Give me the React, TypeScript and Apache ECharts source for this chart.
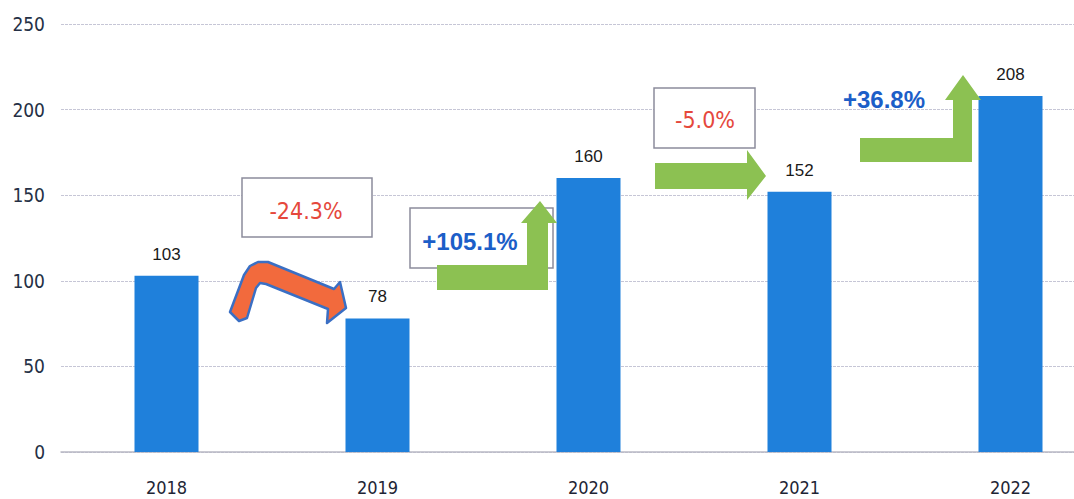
import React, { useEffect, useRef } from "react";
import * as echarts from "echarts";

const years = ["2018", "2019", "2020", "2021", "2022"];
const values = [103, 78, 160, 152, 208];
const yTicks = { min: 0, max: 250, interval: 50 };
const changes = ["-24.3%", "+105.1%", "-5.0%", "+36.8%"];

const GREEN = "#8cc152";
const RED = "#e5483c";
const BLUE_TXT = "#1c5ec8";
const NARROW = "'DejaVu Sans Condensed', 'Liberation Sans Narrow', 'Liberation Sans', Arial, sans-serif";

export default function App() {
  const ref = useRef<HTMLDivElement>(null);
  useEffect(() => {
    if (!ref.current) return;
    const chart = echarts.init(ref.current, null, { renderer: "svg" });
    const box = (x: number, y: number, w: number, h: number) => ({
      type: "rect",
      shape: { x, y, width: w, height: h },
      style: { fill: "#ffffff", stroke: "#8c8c9c", lineWidth: 1.5 },
      z: 10,
    });
    const txt = (x: number, y: number, t: string, color: string, bold: boolean, size: number) => ({
      type: "text",
      x,
      y,
      style: {
        text: t,
        fill: color,
        font: `${bold ? "bold " : ""}${size}px ${bold ? "'Liberation Sans', Arial, sans-serif" : NARROW}`,
        align: "center",
        verticalAlign: "middle",
      },
      z: 12,
    });
    const poly = (points: number[][], fill: string, stroke?: string) => ({
      type: "polygon",
      shape: { points },
      style: stroke ? { fill, stroke, lineWidth: 2.5, lineJoin: "round" } : { fill },
      z: 11,
    });
    chart.setOption({
      animation: false,
      backgroundColor: "#ffffff",
      grid: { left: 61, right: 0, top: 24, bottom: 47, containLabel: false },
      xAxis: {
        type: "category",
        data: years,
        axisLine: { show: true, lineStyle: { color: "#b8b8c4", width: 1.5 } },
        axisTick: { show: false },
        axisLabel: {
          margin: 26,
          fontSize: 18,
          color: "#1e2535",
          fontFamily: NARROW,
        },
      },
      yAxis: {
        type: "value",
        min: yTicks.min,
        max: yTicks.max,
        interval: yTicks.interval,
        axisLine: { show: false },
        axisTick: { show: false },
        splitLine: { lineStyle: { color: "#c6c6d6", width: 1, type: [3, 1] } },
        axisLabel: {
          margin: 16,
          fontSize: 19,
          color: "#253045",
          fontFamily: NARROW,
        },
      },
      series: [
        {
          type: "bar",
          data: values,
          barWidth: 64,
          itemStyle: { color: "#1f80db" },
          label: {
            show: true,
            position: "top",
            distance: 13,
            fontSize: 17,
            color: "#1a1a1a",
            fontFamily: "'Liberation Sans', Arial, sans-serif",
          },
        },
      ],
      graphic: [
        box(242, 178, 130, 59),
        txt(306, 211, changes[0], RED, false, 23),
        poly(
          [
            [230, 312],
            [244, 275],
            [250, 266],
            [258, 262],
            [268, 262],
            [334, 289],
            [340, 282],
            [346, 308],
            [327, 323],
            [328, 309],
            [266, 284],
            [260, 283],
            [256, 288],
            [247, 318],
            [239, 321],
          ],
          "#f26a3d",
          "#3a6fc4"
        ),
        box(410, 208, 143, 60),
        txt(470, 241, changes[1], BLUE_TXT, true, 24),
        poly(
          [
            [437, 265],
            [527, 265],
            [527, 223],
            [521, 223],
            [540, 201],
            [557, 223],
            [548, 223],
            [548, 290],
            [437, 290],
          ],
          GREEN
        ),
        box(654, 88, 101, 60),
        txt(705, 120, changes[2], RED, false, 23),
        poly(
          [
            [655, 163],
            [747, 163],
            [747, 150],
            [766, 176],
            [747, 200],
            [747, 189],
            [655, 189],
          ],
          GREEN
        ),
        txt(884, 99, changes[3], BLUE_TXT, true, 24),
        poly(
          [
            [860, 138],
            [953, 138],
            [953, 100],
            [945, 100],
            [963, 75],
            [981, 100],
            [972, 100],
            [972, 162],
            [860, 162],
          ],
          GREEN
        ),
      ],
    });
    return () => chart.dispose();
  }, []);
  return (
    <div style={{ position: "fixed", left: 0, top: 0, width: 1074, height: 499, overflow: "hidden" }}>
      <div ref={ref} style={{ width: 1116, height: 499 }} />
    </div>
  );
}
